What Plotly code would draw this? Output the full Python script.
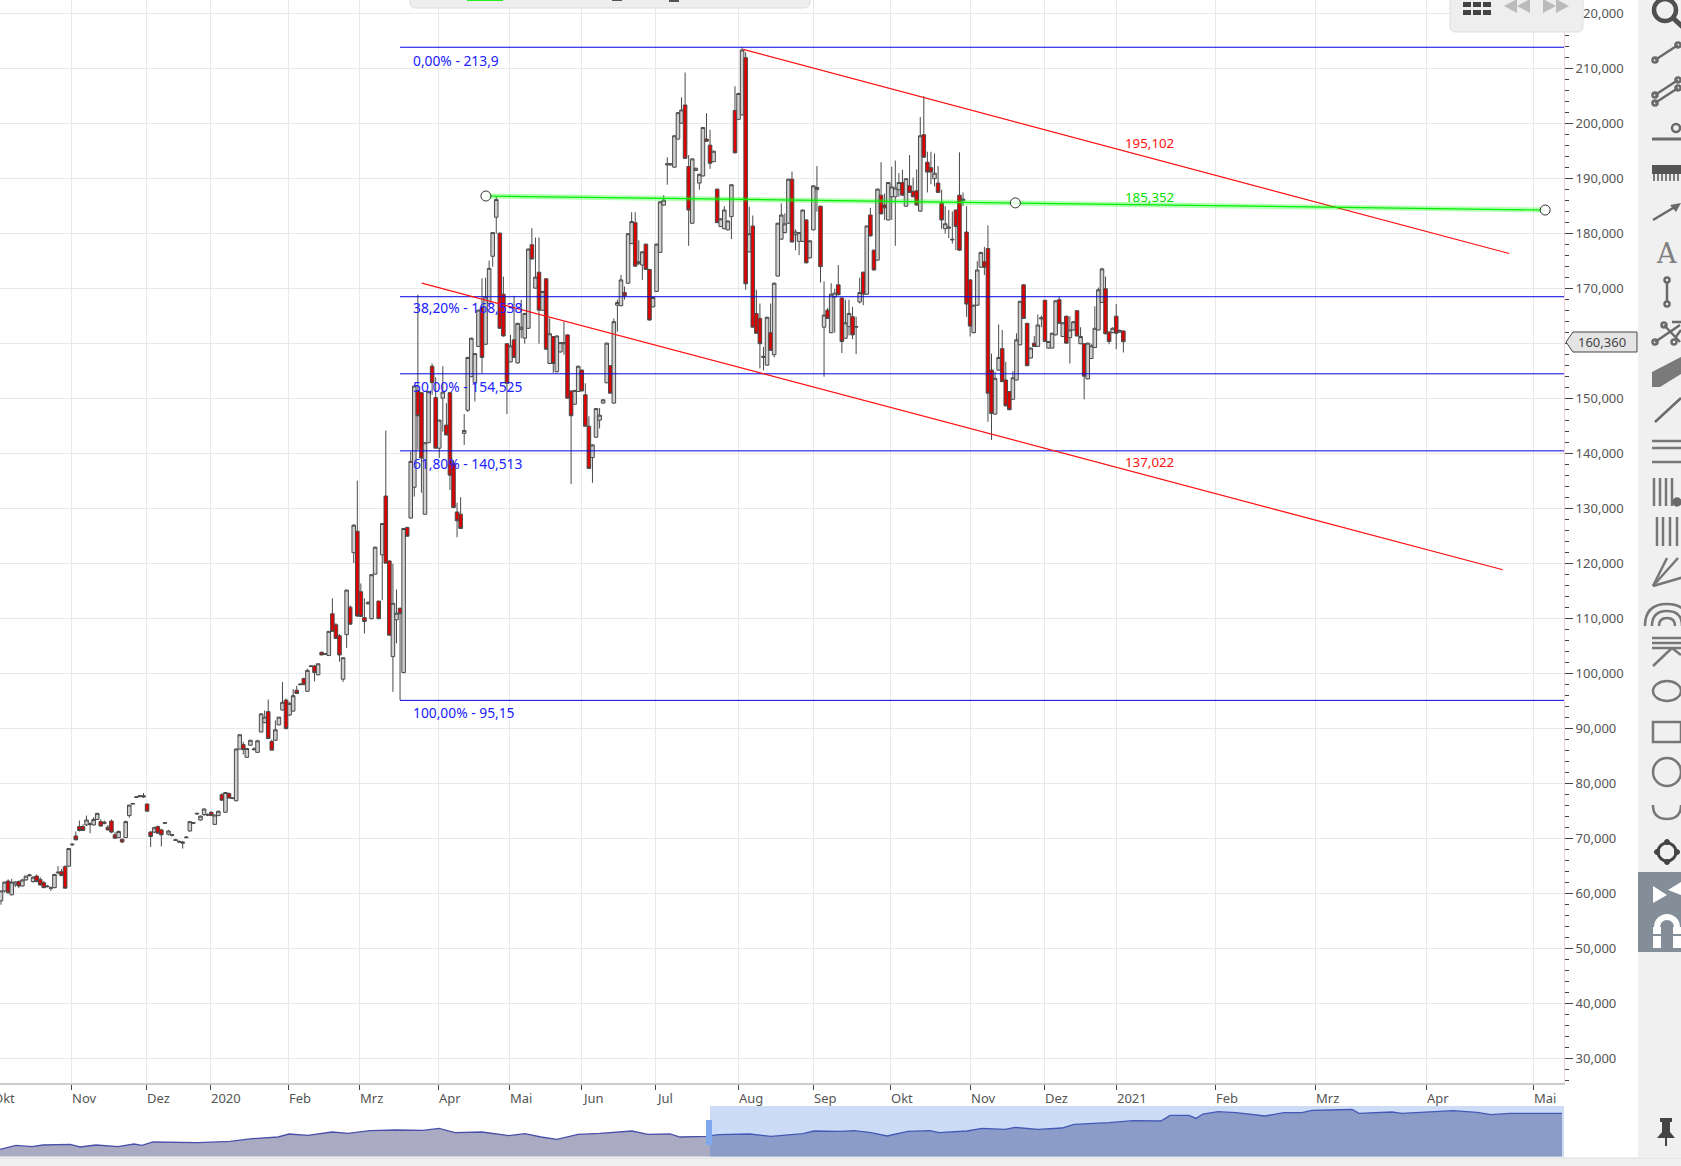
import plotly.graph_objects as go

W, H = 1681, 1166
PLOT_R, PLOT_B = 1564, 1083
NAV_T, NAV_B = 1106, 1156.7

open_ = [
 58.7,60.5,62.3,59.8,61.6,62.2,61.4,62.5,63.3,62.2,
 63.2,62.6,62.0,61.4,61.1,61.1,63.8,64.0,64.9,65.0,
 68.9,70.5,72.2,72.2,72.5,72.7,72.5,73.5,73.1,73.0,
 72.1,73.2,70.7,70.2,69.9,70.2,74.2,76.3,77.5,77.7,
 77.8,76.3,71.2,71.2,72.2,71.6,72.8,70.8,70.6,69.8,
 69.5,69.4,70.3,71.4,72.8,74.5,73.4,74.4,74.4,74.8,
 72.6,74.2,78.0,74.8,78.2,77.3,76.9,86.3,87.1,84.8,
 87.0,86.2,85.7,89.4,91.1,93.1,87.7,87.9,90.7,93.4,
 95.2,92.5,93.2,97.0,98.0,99.1,96.8,101.3,101.4,99.8,
 103.9,103.5,103.3,110.9,108.9,106.9,99.0,107.1,112.1,122.0,
 125.9,114.9,110.2,112.7,110.0,118.1,113.2,121.6,132.3,120.5,
 103.1,109.8,111.9,100.2,126.6,128.3,133.9,151.5,151.1,129.0,
 142.0,155.9,150.2,141.0,150.1,145.2,151.1,138.2,129.4,129.0,
 143.7,147.9,154.0,152.9,159.5,166.6,159.9,167.3,175.9,183.0,
 180.1,169.0,160.0,156.7,160.7,156.5,162.6,161.0,162.8,178.0,
 170.1,173.0,166.1,171.8,156.4,161.3,154.9,158.5,160.2,161.6,
 151.4,149.0,151.3,155.2,150.7,145.0,139.3,143.0,146.1,149.2,
 152.9,156.0,149.2,167.0,166.9,169.3,171.0,178.2,182.0,174.6,
 174.3,178.1,173.5,166.7,169.5,176.6,185.2,192.5,192.5,192.1,
 197.2,200.1,203.4,192.2,181.9,191.5,189.2,190.5,197.2,196.1,
 193.1,188.1,181.3,180.9,180.7,183.1,202.4,200.8,201.6,212.0,
 176.7,181.4,165.5,164.6,157.5,156.1,162.0,158.0,172.3,179.0,
 180.2,181.9,189.9,179.8,178.6,178.6,182.5,175.6,180.7,188.0,
 185.0,163.0,166.1,162.0,168.5,170.7,168.3,161.0,163.1,164.9,
 163.0,167.6,173.0,169.0,183.4,177.0,175.2,187.0,185.2,182.5,
 186.7,186.7,188.0,189.3,185.0,188.7,187.7,187.8,184.1,198.0,
 193.0,192.0,190.0,189.2,185.5,180.9,181.0,179.0,184.3,187.0,
 186.0,180.3,171.6,162.0,167.0,173.9,174.9,177.3,155.2,147.2,
 155.2,159.1,153.4,151.3,149.9,153.4,159.8,170.7,163.7,157.4,
 160.1,159.5,164.5,167.9,159.2,159.2,161.6,168.0,161.3,165.0,
 161.1,162.5,166.0,160.0,160.0,153.6,157.3,159.3,162.5,167.5,
 170.0,162.1,162.0,165.0,162.1,162.3,
]
high = [
 60.6,62.2,62.6,62.7,62.3,62.4,62.7,63.2,63.6,63.2,
 63.5,63.0,62.3,61.6,61.3,63.6,65.0,64.5,65.2,68.3,
 69.1,71.3,73.3,72.6,74.2,73.0,73.9,74.7,73.5,73.3,
 72.5,73.5,71.2,71.5,70.0,73.3,76.2,76.5,77.7,77.9,
 78.3,76.4,71.4,72.2,72.4,71.8,73.0,71.6,70.9,70.0,
 69.7,69.6,70.5,73.2,73.0,74.7,74.2,75.5,74.6,75.0,
 74.4,75.1,78.3,78.5,78.4,77.5,86.4,89.0,87.6,86.5,
 87.9,86.6,88.0,92.8,93.3,95.3,88.0,91.5,92.1,98.5,
 95.5,94.9,97.2,97.8,98.2,99.3,100.9,101.5,101.6,101.8,
 104.0,103.7,107.7,113.7,109.2,107.2,103.0,115.3,112.4,127.2,
 135.1,116.4,113.7,113.2,118.1,123.1,113.3,127.4,144.2,120.6,
 120.0,115.3,112.0,126.5,126.7,140.4,152.4,168.9,151.2,142.1,
 151.4,156.4,153.9,146.2,155.9,149.2,151.2,138.8,131.1,132.1,
 147.2,157.6,161.1,158.3,166.2,171.9,172.0,175.1,180.3,186.8,
 180.2,172.2,160.1,161.6,168.7,163.8,168.0,165.6,177.3,181.0,
 179.3,179.3,169.6,171.9,164.6,161.4,161.5,160.3,164.0,161.7,
 151.5,151.6,156.0,155.3,152.8,146.8,141.7,148.3,148.3,149.9,
 160.2,156.1,164.6,168.0,172.5,170.4,180.1,183.9,183.9,178.8,
 176.8,178.2,173.6,168.5,178.2,185.9,187.0,193.9,192.8,197.9,
 202.1,204.8,209.3,194.3,193.7,192.0,190.9,199.4,201.9,198.9,
 195.1,188.2,182.8,185.0,182.4,189.0,206.8,205.6,213.9,213.0,
 184.9,183.3,169.8,167.3,159.4,164.9,167.3,171.1,182.0,185.5,
 183.7,190.0,191.3,180.8,180.3,184.4,182.6,178.8,188.8,192.3,
 185.1,171.3,166.5,171.0,170.0,174.3,168.4,168.0,168.0,166.7,
 164.9,172.0,173.1,181.5,184.7,177.1,188.2,193.0,187.3,189.4,
 192.2,193.3,191.0,191.6,190.1,194.3,190.2,191.7,201.2,205.0,
 194.9,194.9,194.6,192.3,188.0,185.0,184.3,184.0,184.4,194.8,
 187.5,185.0,171.7,167.1,175.0,176.7,177.6,181.5,158.2,154.9,
 163.5,162.5,156.7,151.4,155.0,161.9,167.8,170.8,163.8,159.3,
 161.4,165.3,165.1,168.0,160.5,162.0,167.9,168.6,163.9,165.1,
 165.0,164.1,166.1,163.0,160.1,160.2,160.0,166.8,170.2,173.8,
 172.2,162.3,163.0,167.2,162.6,162.4,
]
low = [
 58.0,60.2,60.0,59.7,61.2,61.0,61.3,62.4,63.1,62.0,
 62.1,61.5,61.0,61.1,60.5,61.0,63.5,63.2,61.0,64.9,
 68.7,69.7,71.3,71.5,72.3,71.0,72.4,73.4,72.2,72.6,
 71.5,71.0,70.0,70.1,69.2,70.1,73.8,76.2,77.4,77.5,
 77.4,75.0,68.5,71.0,71.0,68.6,72.7,70.6,70.4,69.6,
 69.3,68.2,70.1,71.3,72.7,74.3,73.3,74.1,74.1,74.2,
 72.5,74.1,77.0,74.7,77.3,77.2,76.8,86.2,85.3,84.7,
 86.9,86.0,85.6,89.3,91.0,88.2,86.1,87.8,90.6,93.3,
 90.0,92.3,93.1,96.3,97.9,98.0,96.7,101.2,98.6,99.7,
 103.4,103.4,103.2,107.6,106.4,102.2,98.5,104.7,109.0,120.1,
 110.3,110.3,107.3,112.6,109.9,118.0,110.0,113.4,120.1,107.0,
 96.7,105.5,95.2,100.1,124.9,128.2,132.2,140.7,132.9,128.9,
 141.9,150.7,141.0,139.2,144.0,143.4,133.4,130.2,124.8,126.4,
 141.6,147.6,153.9,149.5,159.4,154.6,159.8,167.2,174.0,180.0,
 162.7,161.3,147.2,156.6,157.5,156.4,161.0,160.0,162.7,175.3,
 170.0,160.0,166.0,158.9,156.3,154.7,154.8,158.4,158.0,150.0,
 134.5,148.9,151.2,151.4,145.0,137.3,134.7,142.9,144.6,149.1,
 152.8,151.0,149.1,162.2,166.8,168.0,170.9,178.1,174.0,174.3,
 171.6,173.5,164.2,166.6,169.4,176.5,185.1,188.9,192.4,192.0,
 197.1,200.0,193.6,177.8,181.8,191.4,188.0,190.4,196.7,191.8,
 193.0,182.0,181.2,180.8,180.6,179.0,194.6,200.7,201.5,169.8,
 176.6,162.9,161.8,155.5,155.2,156.0,158.7,157.5,172.2,178.9,
 180.1,181.8,178.4,177.0,176.1,178.5,174.6,175.5,180.6,184.0,
 171.1,154.0,164.5,161.9,162.0,168.8,158.3,160.9,161.5,160.8,
 158.1,167.3,167.0,168.9,179.5,173.3,175.1,183.5,182.5,182.4,
 182.5,177.8,186.7,186.9,184.9,187.4,186.6,185.1,184.0,193.8,
 187.5,189.0,188.6,187.4,180.9,180.0,179.2,178.2,177.0,176.9,
 185.0,164.9,161.3,161.9,166.9,173.8,172.5,145.8,142.5,147.1,
 155.1,153.0,148.6,147.9,149.8,153.3,159.7,164.5,155.9,157.3,
 159.4,159.4,163.0,160.3,159.1,159.1,161.5,163.6,161.2,160.0,
 156.4,162.4,161.3,159.9,149.9,153.5,157.2,159.2,162.4,167.4,
 161.7,159.9,161.9,159.0,162.0,158.4,
]
close = [
 60.5,62.1,60.2,62.1,62.1,61.4,62.5,63.2,63.4,63.0,
 62.2,61.6,61.1,61.3,61.0,63.5,63.9,63.3,61.0,68.2,
 69.0,69.8,71.5,71.5,73.4,72.6,73.5,74.6,72.3,72.8,
 71.6,71.2,70.1,71.3,69.4,73.1,76.1,76.4,77.6,77.8,
 77.6,75.0,70.4,72.0,71.0,70.7,72.9,71.4,70.7,69.7,
 69.4,69.2,70.2,73.1,72.9,74.6,74.1,75.4,74.3,74.2,
 74.3,75.0,77.0,78.4,77.4,77.4,86.3,88.9,86.2,86.4,
 87.9,86.3,87.8,92.7,92.1,88.2,86.1,89.8,92.1,94.8,
 90.0,94.6,96.0,96.4,98.1,98.0,100.6,101.4,100.2,101.8,
 103.4,103.6,107.7,107.7,106.4,103.4,102.9,115.2,109.0,127.0,
 110.5,110.4,109.5,112.9,118.0,123.0,110.0,127.3,120.1,107.0,
 112.8,111.0,110.9,126.4,125.0,138.6,152.3,146.9,139.2,142.0,
 151.3,152.9,141.0,146.1,151.2,143.4,136.1,130.2,127.8,126.4,
 144.2,157.5,161.0,158.2,166.1,157.5,168.5,173.7,180.2,186.2,
 162.8,161.4,152.8,159.6,157.5,163.7,163.0,165.5,177.2,175.4,
 172.1,166.1,169.5,159.0,161.8,156.4,161.4,160.2,160.0,150.1,
 146.9,151.5,155.9,151.4,145.0,137.3,141.6,148.2,147.0,149.8,
 160.1,151.0,164.0,167.5,171.6,168.7,180.0,182.2,174.1,174.9,
 176.7,173.5,164.3,168.4,178.1,185.8,186.1,192.7,192.7,197.8,
 202.0,202.5,193.7,184.3,193.6,191.9,190.8,199.3,196.8,192.8,
 195.0,182.0,182.7,184.3,182.3,188.9,194.7,205.5,213.4,170.9,
 180.0,163.0,161.9,160.0,157.7,164.8,158.8,171.0,181.9,183.4,
 181.8,189.9,178.5,180.3,180.2,184.3,174.7,178.7,188.7,188.4,
 174.0,165.2,164.6,169.0,169.2,168.9,160.4,163.8,165.5,161.6,
 163.1,169.3,169.0,181.4,179.6,173.4,188.1,183.6,184.7,189.3,
 188.5,188.3,189.3,187.0,190.0,187.5,186.7,185.2,197.8,193.9,
 191.2,191.2,191.0,187.5,182.5,181.8,181.2,178.9,181.3,177.0,
 186.3,167.2,163.2,167.0,173.4,176.6,173.9,151.0,147.3,153.7,
 157.5,153.1,148.7,148.0,153.8,160.7,167.7,164.6,156.0,159.2,
 159.5,163.4,164.7,160.4,160.4,161.9,167.8,163.7,163.8,160.1,
 162.5,164.0,161.4,161.3,154.1,160.1,159.6,162.8,169.8,173.6,
 161.8,160.4,162.8,161.9,162.4,160.36,
]
assert len(open_) == len(high) == len(low) == len(close) == 316

# Month labels and their place on the bar axis (trading-day index; future = calendar days)
month_labels = ["Okt", "Nov", "Dez", "2020", "Feb", "Mrz", "Apr", "Mai", "Jun", "Jul", "Aug", "Sep",
                "Okt", "Nov", "Dez", "2021", "Feb", "Mrz", "Apr", "Mai"]
month_index = [-2.5, 19.73, 40.7, 58.9, 80.7, 100.7, 122.7, 142.7, 162.8, 183.8, 207.0, 228.0,
               249.7, 272.0, 293.0, 313.0, 341.0, 369.0, 400.0, 430.0]

fib_levels = [213.9, 168.538, 154.525, 140.513, 95.15]
fib_labels = ["0,00% - 213,9", "38,20% - 168,538", "50,00% - 154,525", "61,80% - 140,513", "100,00% - 95,15"]
fib_start = 112
channel_top_x, channel_top_y = [208.3, 423.3], [213.5, 176.4]
channel_low_x, channel_low_y = [118.1, 421.5], [171.0, 118.9]
green_x, green_y = [136.1, 284.7, 433.4], [186.85, 185.6, 184.3]

nav_pos = [0,16,32,43,70,80,96,118,134,142,153,182,198,230,252,278,289,308,332,348,370,396,423,439,455,482,
           509,525,541,557,578,600,632,648,670,680,707,718,750,771,803,814,840,854,871,887,908,930,939,967,
           982,1005,1015,1038,1062,1074,1109,1133,1161,1170,1189,1196,1203,1218,1236,1265,1284,1302,1312,
           1331,1352,1359,1392,1402,1425,1453,1477,1491,1510,1562]
nav_val = [7.3,11.3,10,11.7,12.3,9.7,11.7,10,12.7,11.3,14.7,14,14,15.3,18,19.7,22.7,21.3,24.7,23.3,26,26.7,26.3,
           28.3,24,24.7,21,23,19.7,17.3,22.3,23.3,25.7,22.3,22.7,19.7,20.3,22,22.7,20.3,23,25.7,25.3,26,24,20.7,
           25.3,26,24,25.7,28.3,27.3,29.3,27.3,28.7,32.3,34,36,35.7,41.3,41.3,38.3,42.7,45,44,40.7,44,44,46.3,
           46.7,47.3,43.3,44.7,43.3,44.7,46,44.3,42,43.3,43.3]

BAR = 3.563
xr = [(0 - 1) / BAR, (PLOT_R - 1) / BAR]
yr = [25.58, 222.49]
dom_x = PLOT_R / W
FONT = "Noto Sans"
GRID = "#e9e9e9"
TXT = "#555555"

def px(x): return x / W
def py(y): return 1 - y / H
def bar_px(i): return (i - xr[0]) / (xr[1] - xr[0]) * PLOT_R

fig = go.Figure()
bars = list(range(len(close)))
fig.add_trace(go.Candlestick(
    x=bars, open=open_, high=high, low=low, close=close, whiskerwidth=0,
    increasing=dict(fillcolor="#cfcfcf", line=dict(color="#4a4a4a", width=1)),
    decreasing=dict(fillcolor="#e00000", line=dict(color="#4a4a4a", width=1)),
    hoverinfo="skip", xaxis="x", yaxis="y"))

for lv in fib_levels:
    fig.add_trace(go.Scatter(x=[fib_start, xr[1]], y=[lv, lv], mode="lines",
                             line=dict(color="#0000e6", width=1), hoverinfo="skip"))
for xs, ys in [(channel_top_x, channel_top_y), (channel_low_x, channel_low_y)]:
    fig.add_trace(go.Scatter(x=xs, y=ys, mode="lines", line=dict(color="#ff1010", width=1.2), hoverinfo="skip"))
fig.add_trace(go.Scatter(x=green_x, y=green_y, mode="lines",
                         line=dict(color="rgba(0,255,0,0.3)", width=5), hoverinfo="skip"))
fig.add_trace(go.Scatter(x=green_x, y=green_y, mode="lines+markers",
                         line=dict(color="#00ee00", width=1.2),
                         marker=dict(size=10, color="rgba(255,255,255,0.85)", line=dict(color="#333333", width=1)),
                         hoverinfo="skip"))

# navigator
fig.add_trace(go.Scatter(x=nav_pos, y=nav_val, mode="lines", fill="tozeroy", fillcolor="#aaaac2",
                         line=dict(color="#4a50a8", width=1.3), xaxis="x2", yaxis="y2", hoverinfo="skip"))

shapes, ann = [], []

def line(x0, y0, x1, y1, c="#6a6a6a", w=2.5):
    shapes.append(dict(type="line", xref="paper", yref="paper", x0=px(x0), y0=py(y0), x1=px(x1), y1=py(y1),
                       line=dict(color=c, width=w), layer="above"))
def rect(x0, y0, x1, y1, fill="#f0f0f0", c=None, w=0):
    shapes.append(dict(type="rect", xref="paper", yref="paper", x0=px(x0), y0=py(y0), x1=px(x1), y1=py(y1),
                       fillcolor=fill, line=dict(color=c or fill, width=w), layer="above"))
def circ(cx, cy, rx, ry=None, fill="rgba(0,0,0,0)", c="#6a6a6a", w=2.5):
    ry = rx if ry is None else ry
    shapes.append(dict(type="circle", xref="paper", yref="paper", x0=px(cx-rx), y0=py(cy-ry), x1=px(cx+rx), y1=py(cy+ry),
                       fillcolor=fill, line=dict(color=c, width=w), layer="above"))
def path(pts, fill="#777777", c=None, w=0):
    d = "M" + " L".join(f"{px(a):.5f},{py(b):.5f}" for a, b in pts) + " Z"
    shapes.append(dict(type="path", xref="paper", yref="paper", path=d, fillcolor=fill,
                       line=dict(color=c or fill, width=w), layer="above"))
def rpath(d, fill="#eeeeee", c="#dddddd", w=1):
    shapes.append(dict(type="path", xref="paper", yref="paper", path=d, fillcolor=fill,
                       line=dict(color=c, width=w), layer="above"))

# navigator selection
rect(710, NAV_T, PLOT_R, NAV_B, fill="rgba(50,115,223,0.25)")
rect(706, 1120, 712, 1145, fill="#7fa8ee")

# bottom strip and right toolbar
rect(0, 1158, W, H, fill="#f0f0f0")
line(0, 1158, W, 1158, c="#dcdcdc", w=1)
rect(1638, 0, W, 1158, fill="#f0f0f0")
rect(1638, 872, W, 952, fill="#838e99")

# top popups
def rounded(x0, x1, y1, r=6):
    return (f"M{px(x0):.5f},{py(-5):.5f} L{px(x1):.5f},{py(-5):.5f} L{px(x1):.5f},{py(y1-r):.5f} "
            f"Q{px(x1):.5f},{py(y1):.5f} {px(x1-r):.5f},{py(y1):.5f} L{px(x0+r):.5f},{py(y1):.5f} "
            f"Q{px(x0):.5f},{py(y1):.5f} {px(x0):.5f},{py(y1-r):.5f} Z")
rpath(rounded(410, 810, 8))
rect(467, -2, 503, 1, fill="#22ee22")
rect(612, -2, 622, 1, fill="#555555")
rect(669, -2, 679, 2, fill="#555555")
rpath(rounded(1450, 1583, 32))
for cx in (1463, 1473, 1483):
    rect(cx, 2, cx + 8, 7, fill="#444444")
    rect(cx, 10, cx + 8, 15, fill="#444444")
for a, b in ((1504, 1517), (1517, 1530)):
    path([(b, -1), (a, 6), (b, 13)], fill="#bbbbbb")
for a, b in ((1543, 1556), (1556, 1569)):
    path([(a, -1), (b, 6), (a, 13)], fill="#bbbbbb")

# last-price tag
path([(1566, 342), (1573, 332), (1637, 332), (1637, 352), (1573, 352)], fill="#e4e4e4", c="#444444", w=1)

# toolbar icons
circ(1665, 10, 11, w=4.5, c="#505050")
line(1673, 18, 1684, 28, c="#505050", w=5)
line(1655, 60, 1678, 45); circ(1655, 60, 2.5); circ(1678, 45, 2.5)
line(1655, 95, 1678, 80); line(1655, 103, 1678, 88)
for a, b in ((1655, 95), (1655, 103), (1678, 80), (1678, 88)): circ(a, b, 2.5)
line(1652, 139, W, 139, w=3); circ(1676, 128, 4)
rect(1652, 165, W, 174, fill="#555555")
for xx in range(1654, 1681, 4): line(xx, 172, xx, 181, c="#555555", w=1.5)
line(1653, 220, 1678, 205); path([(1681, 203), (1670, 205), (1676, 212)], fill="#6a6a6a")
ann.append(dict(text="A", x=px(1666), y=py(253), xref="paper", yref="paper", xanchor="center", yanchor="middle",
                showarrow=False, font=dict(family="DejaVu Serif", size=27, color="#808080")))
line(1667, 283, 1667, 301); circ(1667, 280, 2.5); circ(1667, 304, 2.5)
line(1655, 342, 1680, 325); line(1664, 325, 1680, 342); line(1672, 322, 1681, 322); line(1675, 338, 1681, 330)
circ(1655, 342, 2.5); circ(1664, 325, 2.5); circ(1674, 342, 2.5)
path([(1652, 372), (1681, 357), (1681, 374), (1660, 387), (1652, 387)], fill="#7a7a7a")
line(1655, 422, W, 398)
for yy in (441, 448, 462): line(1652, yy, W, yy, w=2.5, c="#777777")
for xx in (1654, 1660, 1666, 1672): line(xx, 478, xx, 506, c="#777777")
circ(1677, 502, 3.5, fill="#6a6a6a")
for xx in (1657, 1663, 1670, 1677): line(xx, 517, xx, 546, c="#777777")
for a, b in ((1667, 558), (1678, 558), (1684, 577)): line(1653, 586, a, b, c="#777777")
for r_ in (8, 15, 22):
    shapes.append(dict(type="path", xref="paper", yref="paper",
                       path=f"M{px(1667-r_):.5f},{py(626):.5f} Q{px(1667-r_):.5f},{py(626-r_):.5f} {px(1667):.5f},{py(626-r_):.5f} "
                            f"Q{px(1667+r_):.5f},{py(626-r_):.5f} {px(1667+r_):.5f},{py(626):.5f}",
                       line=dict(color="#777777", width=2.5), layer="above"))
for yy in (638, 643, 648): line(1652, yy, W, yy, c="#777777")
line(1653, 666, 1672, 648, c="#777777"); line(1672, 648, 1681, 655, c="#777777")
circ(1667, 691, 14, 10, c="#777777")
rect(1653, 722, 1681, 742, fill="rgba(0,0,0,0)", c="#777777", w=2.5)
circ(1667, 772, 14, c="#777777")
shapes.append(dict(type="path", xref="paper", yref="paper",
                   path=f"M{px(1653):.5f},{py(805):.5f} Q{px(1653):.5f},{py(819):.5f} {px(1667):.5f},{py(819):.5f} "
                        f"Q{px(1681):.5f},{py(819):.5f} {px(1681):.5f},{py(805):.5f}",
                   line=dict(color="#777777", width=2.5), layer="above"))
circ(1667, 852, 9, c="#444444", w=3)
for a, b in ((1667, 842), (1667, 862), (1657, 852), (1677, 852)): circ(a, b, 2.5, fill="#444444", c="#444444", w=1)
path([(1653, 886), (1667, 895), (1653, 903)], fill="#ffffff")
path([(1681, 882), (1668, 890), (1681, 895)], fill="#ffffff")
circ(1667, 927, 10, c="#ffffff", w=6)
rect(1652, 927, 1682, 948, fill="#838e99")
rect(1653, 927, 1661, 948, fill="#ffffff")
rect(1673, 927, 1681, 948, fill="#ffffff")
rect(1653, 934, 1661, 936, fill="#838e99")
rect(1673, 934, 1681, 936, fill="#838e99")
# pin
rect(1660, 1118, 1672, 1122, fill="#444444")
rect(1662, 1122, 1670, 1134, fill="#444444")
path([(1657, 1138), (1675, 1138), (1670, 1132), (1662, 1132)], fill="#444444")
line(1666, 1138, 1666, 1146, c="#444444", w=2)

# text
blue = "#2020ff"
fib_text_y = [60, 308, 386, 463, 712]
for t, yy in zip(fib_labels, fib_text_y):
    ann.append(dict(text=t, x=px(411), y=py(yy), xref="paper", yref="paper", xanchor="left", yanchor="middle",
                    showarrow=False, font=dict(family=FONT, size=13.8, color=blue)))
for t, yy, c in (("195,102", 143, "#ff1010"), ("185,352", 197, "#00e000"), ("137,022", 462, "#ff1010")):
    ann.append(dict(text=t, x=px(1123), y=py(yy), xref="paper", yref="paper", xanchor="left", yanchor="middle",
                    showarrow=False, font=dict(family=FONT, size=13.3, color=c)))
ann.append(dict(text="160,360", x=px(1602), y=py(342), xref="paper", yref="paper", xanchor="center", yanchor="middle",
                showarrow=False, font=dict(family=FONT, size=13, color="#444444")))
for t, i in zip(month_labels, month_index):
    ann.append(dict(text=t, x=px(bar_px(i) - 1.5), y=py(1098), xref="paper", yref="paper", xanchor="left", yanchor="middle",
                    showarrow=False, font=dict(family=FONT, size=13, color=TXT)))

fig.update_layout(
    width=W, height=H, autosize=False, margin=dict(l=0, r=0, t=0, b=0),
    paper_bgcolor="#ffffff", plot_bgcolor="#ffffff", showlegend=False, separators=",.",
    xaxis=dict(domain=[0, dom_x], range=xr, anchor="y", rangeslider=dict(visible=False),
               tickmode="array", tickvals=month_index, ticktext=[""] * len(month_index),
               ticks="outside", ticklen=5, tickcolor="#444444", tickwidth=1,
               showgrid=True, gridcolor=GRID, gridwidth=1, showline=True, linecolor="#cccccc", linewidth=2,
               zeroline=False, fixedrange=True),
    yaxis=dict(domain=[1 - PLOT_B / H, 1], range=yr, side="right", anchor="x", tickmode="linear", tick0=0, dtick=10,
               tickformat=".3f", ticks="outside", ticklen=8, tickcolor="#444444", tickwidth=1,
               minor=dict(dtick=2, tick0=0, ticks="outside", ticklen=4, tickcolor="#444444", tickwidth=1, showgrid=False),
               showgrid=True, gridcolor=GRID, gridwidth=1, showline=True, linecolor="#f6d4d4", linewidth=1,
               zeroline=False, tickfont=dict(family=FONT, size=13, color=TXT), fixedrange=True),
    xaxis2=dict(domain=[0, dom_x], range=[0, PLOT_R], anchor="y2", visible=False, fixedrange=True),
    yaxis2=dict(domain=[1 - NAV_B / H, 1 - NAV_T / H], range=[0, NAV_B - NAV_T], anchor="x2", visible=False, fixedrange=True),
    shapes=shapes, annotations=ann, boxgap=0, boxgroupgap=0,
)
fig.write_html("out.html", config={"displayModeBar": False},
               post_script="document.body.style.margin='0';document.documentElement.style.overflow='hidden';")
